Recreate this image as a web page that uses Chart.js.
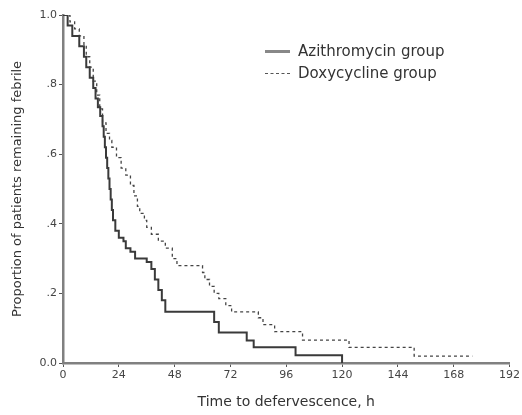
<!DOCTYPE html>
<html>
<head>
<meta charset="utf-8">
<script src="https://cdn.jsdelivr.net/npm/chart.js@4/dist/chart.umd.min.js"></script>
<style>
  body { margin: 0; background: #fff; }
  #wrap { position: relative; width: 522px; height: 415px; }
  #legend { position: absolute; left: 265px; top: 40px; font: 15px "DejaVu Sans", sans-serif; color: #333; }
  #legend div { height: 22px; line-height: 22px; white-space: nowrap; }
  #legend span.swatch { display: inline-block; width: 25px; margin-right: 8px; vertical-align: middle; }
</style>
</head>
<body>
<div id="wrap">
  <canvas id="km" width="522" height="415"></canvas>
  <div id="legend">
    <div><span class="swatch" style="border-top: 3px solid #888;"></span>Azithromycin group</div>
    <div><span class="swatch" style="border-top: 1px dashed #555;"></span>Doxycycline group</div>
  </div>
</div>
<script>
/* Kaplan-Meier curves (time in hours, proportion still febrile) */
var azi_hours = [0, 2, 4, 7, 9, 10, 11.5, 13, 14, 15, 16, 17, 17.5, 18, 18.5, 19, 19.5, 20, 20.5, 21, 21.5, 22.5, 24, 26, 27, 29, 31, 36, 38, 39.5, 41, 42.5, 44, 65, 67, 79, 82, 100, 120];
var azi_prop  = [1.0, 0.97, 0.94, 0.91, 0.88, 0.85, 0.82, 0.79, 0.76, 0.735, 0.71, 0.68, 0.65, 0.62, 0.59, 0.56, 0.53, 0.50, 0.47, 0.44, 0.41, 0.38, 0.36, 0.35, 0.33, 0.32, 0.30, 0.29, 0.27, 0.24, 0.21, 0.18, 0.147, 0.118, 0.088, 0.065, 0.045, 0.022, 0];

var doxy_hours = [0, 3, 5, 7, 9, 10, 11.5, 13, 14.5, 15.8, 17, 18.5, 20, 21, 23, 25, 27, 29, 30.5, 32, 33, 35, 36, 38, 41, 44, 47, 49, 60, 61, 63, 65, 67, 70, 72.5, 84, 86, 91, 103, 123, 151, 176];
var doxy_prop  = [1.0, 0.98, 0.96, 0.94, 0.91, 0.88, 0.85, 0.81, 0.77, 0.73, 0.69, 0.66, 0.64, 0.62, 0.59, 0.56, 0.54, 0.51, 0.48, 0.45, 0.43, 0.41, 0.39, 0.37, 0.35, 0.33, 0.30, 0.28, 0.26, 0.24, 0.22, 0.20, 0.185, 0.165, 0.147, 0.13, 0.11, 0.09, 0.066, 0.045, 0.02, 0.02];

var x_ticks = [0, 24, 48, 72, 96, 120, 144, 168, 192];
var y_ticks = [0, 0.2, 0.4, 0.6, 0.8, 1.0];

function pairs(xs, ys) {
  return xs.map(function (x, i) { return {x: x, y: ys[i]}; });
}

var font = {family: '"DejaVu Sans", sans-serif', size: 11};

const ctx = document.getElementById('km');
const km = new Chart(ctx, {
  type: 'line',
  data: {
    datasets: [{
      label: 'Azithromycin group',
      data: pairs(azi_hours, azi_prop),
      borderColor: '#3a3a3a',
      borderWidth: 2,
      stepped: true,
      pointRadius: 0
    }, {
      label: 'Doxycycline group',
      data: pairs(doxy_hours, doxy_prop),
      borderColor: '#444',
      borderWidth: 1.3,
      borderDash: [3, 3],
      stepped: true,
      pointRadius: 0
    }]
  },
  options: {
    responsive: false,
    animation: false,
    events: [],
    layout: {padding: {top: 15, right: 9, left: 0, bottom: 0}},
    plugins: {legend: {display: false}, tooltip: {enabled: false}},
    scales: {
      x: {
        type: 'linear',
        min: 0, max: 192,
        afterBuildTicks: function (s) { s.ticks = x_ticks.map(function (v) { return {value: v}; }); },
        afterFit: function (s) { s.height = 52; },
        border: {color: '#808080', width: 2.5},
        grid: {drawOnChartArea: false, tickLength: 4, color: '#555'},
        ticks: {color: '#444', font: font, padding: 2, maxRotation: 0},
        title: {display: true, text: 'Time to defervescence, h', color: '#333',
                font: {family: font.family, size: 14}, padding: {top: 11}}
      },
      y: {
        min: 0, max: 1,
        afterBuildTicks: function (s) { s.ticks = y_ticks.map(function (v) { return {value: v}; }); },
        afterFit: function (s) { s.width = 63; },
        border: {color: '#808080', width: 2.5},
        grid: {drawOnChartArea: false, tickLength: 4, color: '#555'},
        ticks: {
          color: '#444', font: font, padding: 2,
          callback: function (v) {
            if (v === 0) return '0.0';
            if (v === 1) return '1.0';
            return v.toFixed(1).replace(/^0/, '');
          }
        },
        title: {display: true, text: 'Proportion of patients remaining febrile', color: '#333',
                font: {family: font.family, size: 13}, padding: {top: 10, bottom: 4}}
      }
    }
  }
});
</script>
</body>
</html>
